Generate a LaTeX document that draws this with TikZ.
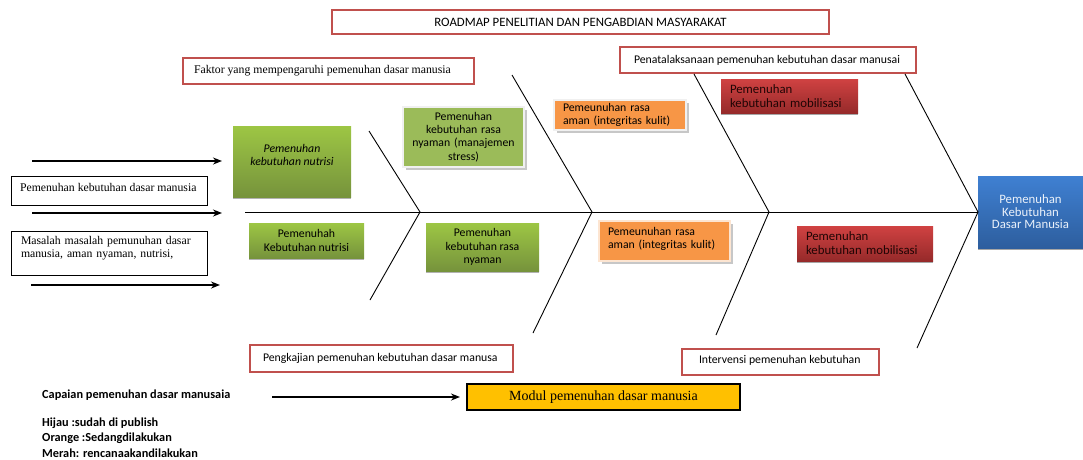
\documentclass[tikz,border=0pt]{standalone}
\usepackage{fontspec}
\setmainfont{Liberation Serif}
\newfontfamily\calfont{Carlito}
\usetikzlibrary{arrows.meta,shadows}
\definecolor{bred}{HTML}{C0504D}
\definecolor{gold}{HTML}{FFC000}
\definecolor{orangeF}{HTML}{F79646}
\definecolor{greenF}{HTML}{9BBB59}
\definecolor{gT}{HTML}{9DC644}
\definecolor{gB}{HTML}{76933C}
\definecolor{rT}{HTML}{D04242}
\definecolor{rB}{HTML}{962A2A}
\definecolor{blT}{HTML}{3F80D2}
\definecolor{blB}{HTML}{2D5E9E}
\definecolor{rtext}{HTML}{200505}
\definecolor{btext}{HTML}{EAF1FA}
\newcommand\fSn{\calfont\fontsize{11.75}{13.3}\selectfont}
\newcommand\fSl{\calfont\fontsize{12.8}{12.5}\selectfont}
\newcommand\fSr{\calfont\fontsize{12.8}{14}\selectfont}
\newcommand\fSb{\calfont\bfseries\fontsize{12.3}{13}\selectfont}
\newcommand\fRn{\fontsize{11.75}{12.5}\selectfont}
\newcommand\fRl{\fontsize{14}{16}\selectfont}
\begin{document}
\begin{tikzpicture}[x=1pt,y=-1pt,
  base/.style={anchor=north west, outer sep=0pt, inner ysep=0pt},
  redbox/.style={base, draw=bred, line width=1.4pt, fill=white},
  blackbox/.style={base, draw=black, line width=0.9pt, fill=white},
  redfill/.style={base, top color=rT, bottom color=rB, draw=none, text=rtext, font=\fSr, align=left,
    drop shadow={shadow xshift=0pt, shadow yshift=-2pt, fill=black!35, opacity=1}},
  gradgreen/.style={base, top color=gT, bottom color=gB, draw=none, font=\fSn, align=center, text=black,
    drop shadow={shadow xshift=0pt, shadow yshift=-2pt, fill=black!30, opacity=1}},
  framed/.style={base, draw=black!6, line width=2.4pt, font=\fSn,
    drop shadow={shadow xshift=2.5pt, shadow yshift=-2.5pt, fill=black!22, opacity=1}},
  bone/.style={line width=0.9pt},
  conn/.style={-{Stealth[length=9pt,width=7pt]}, line width=1.9pt},
  legend/.style={anchor=west, font=\fSb, inner sep=0pt}
]
\useasboundingbox (0,0) rectangle (1083,459);

% title and category boxes
\node[redbox, minimum width=497pt, minimum height=24pt, inner xsep=0pt, font=\fSl] (title) at (332,10)
  {ROADMAP PENELITIAN DAN PENGABDIAN MASYARAKAT};
\node[redbox, minimum height=26pt, inner xsep=11pt, font=\fRn] (faktor) at (183,58)
  {\makebox[269pt][l]{Faktor yang mempengaruhi pemenuhan dasar manusia}};
\node[redbox, minimum height=26pt, inner xsep=14pt, font=\fSn] (penata) at (620,47)
  {\makebox[268pt][l]{Penatalaksanaan pemenuhan kebutuhan dasar manusai}};
\node[redbox, minimum height=27pt, inner xsep=13pt, font=\fSn] (pengkajian) at (250,345)
  {\makebox[237pt][l]{Pengkajian pemenuhan kebutuhan dasar manusa}};
\node[redbox, minimum height=26pt, inner xsep=17pt, font=\fSn] (intervensi) at (682,349)
  {\makebox[163pt][l]{\raisebox{1.5pt}[\height][\depth]{Intervensi pemenuhan kebutuhan}}};

% left boxes
\node[blackbox, minimum height=29pt, inner xsep=9pt, font=\fRn] (dasar) at (11,176)
  {\makebox[178pt][l]{\raisebox{3.5pt}[\height][\depth]{Pemenuhan kebutuhan dasar manusia}}};
\node[blackbox, minimum height=44pt, inner xsep=10pt, text width=176pt, align=left, font=\fRn] (masalah) at (11,231)
  {Masalah masalah pemunuhan dasar\\ manusia, aman nyaman, nutrisi,\\ \mbox{}};

% head
\node[base, minimum width=105pt, minimum height=72pt, inner xsep=0pt, top color=blT, bottom color=blB, draw=none,
  text=btext, font=\fSl, align=center,
  drop shadow={shadow xshift=0pt, shadow yshift=-2pt, fill=black!35, opacity=1}] (effect) at (978,176)
  {Pemenuhan\\Kebutuhan\\Dasar Manusia};

% green boxes
\node[gradgreen, minimum width=118pt, minimum height=71pt, inner xsep=0pt, font=\calfont\itshape\fontsize{11.75}{13.3}\selectfont] (nutrisiA) at (233,126)
  {Pemenuhan\\kebutuhan nutrisi\\ \mbox{}};
\node[gradgreen, minimum width=115pt, minimum height=35pt, inner xsep=0pt] (nutrisiB) at (249,223)
  {Pemenuhah\\Kebutuhan nutrisi};
\node[gradgreen, minimum width=113pt, minimum height=48pt, inner xsep=0pt] (nyamanB) at (426,223)
  {Pemenuhan\\kebutuhan rasa\\nyaman};
\node[framed, fill=greenF, minimum width=121pt, minimum height=60pt, inner xsep=4pt, text width=113pt, align=center] (nyamanA) at (403,107)
  {Pemenuhan\\kebutuhan rasa\\nyaman (manajemen\\stress)};

% orange boxes
\node[framed, fill=orangeF, minimum height=30pt, inner xsep=9pt, text width=114pt, align=left] (amanA) at (554,100)
  {Pemeunuhan rasa\\aman (integritas kulit)};
\node[framed, fill=orangeF, draw=orangeF!25!white, minimum height=40pt, inner xsep=9pt, text width=113pt, align=left] (amanB) at (599,221)
  {Pemeunuhan rasa\\aman (integritas kulit)\\[-7pt] \mbox{}};

% red boxes
\node[redfill, minimum height=34pt, inner xsep=9pt, text width=119pt] (mobA) at (721,79)
  {Pemenuhan\\kebutuhan mobilisasi};
\node[redfill, minimum height=35pt, inner xsep=9pt, text width=118pt] (mobB) at (797,226)
  {Pemenuhan\\kebutuhan mobilisasi};

% module
\node[base, draw=black, line width=2pt, fill=gold, minimum width=273pt, minimum height=26pt, font=\fRl] (modul) at (467,384)
  {Modul pemenuhan dasar manusia};

% fishbone
\coordinate (sp0) at (245,212);
\coordinate (b1s) at (369,131); \coordinate (b1v) at (420,212); \coordinate (b1e) at (370,300);
\coordinate (b2s) at (512,75);  \coordinate (b2v) at (592,212); \coordinate (b2e) at (533,333);
\coordinate (b3s) at (694,74);  \coordinate (b3v) at (769,212); \coordinate (b3e) at (716,335);
\coordinate (b4s) at (905,74);  \coordinate (b4e) at (917,348);
\draw[bone] (sp0) -- (effect.west);
\draw[bone] (b1s) -- (b1v) -- (b1e);
\draw[bone] (b2s) -- (b2v) -- (b2e);
\draw[bone] (b3s) -- (b3v) -- (b3e);
\draw[bone] (b4s) -- (effect.west) -- (b4e);

% input arrows
\coordinate (a1s) at (32,161); \coordinate (a1e) at (222,161);
\coordinate (a2s) at (32,213); \coordinate (a2e) at (222,213);
\coordinate (a3s) at (31,285); \coordinate (a3e) at (220,285);
\coordinate (a4s) at (272,397);
\draw[conn] (a1s) -- (a1e);
\draw[conn] (a2s) -- (a2e);
\draw[conn] (a3s) -- (a3e);
\draw[conn, shorten >=7pt] (a4s) -- (modul.west);

% legend
\node[legend] (capaian) at (42,395) {Capaian pemenuhan dasar manusaia};
\node[legend] (hijau) at (42,423) {Hijau :sudah di publish};
\node[legend] (orange) at (42,438) {Orange :Sedangdilakukan};
\node[legend] (merah) at (42,453) {Merah: rencanaakandilakukan};
\end{tikzpicture}
\end{document}
